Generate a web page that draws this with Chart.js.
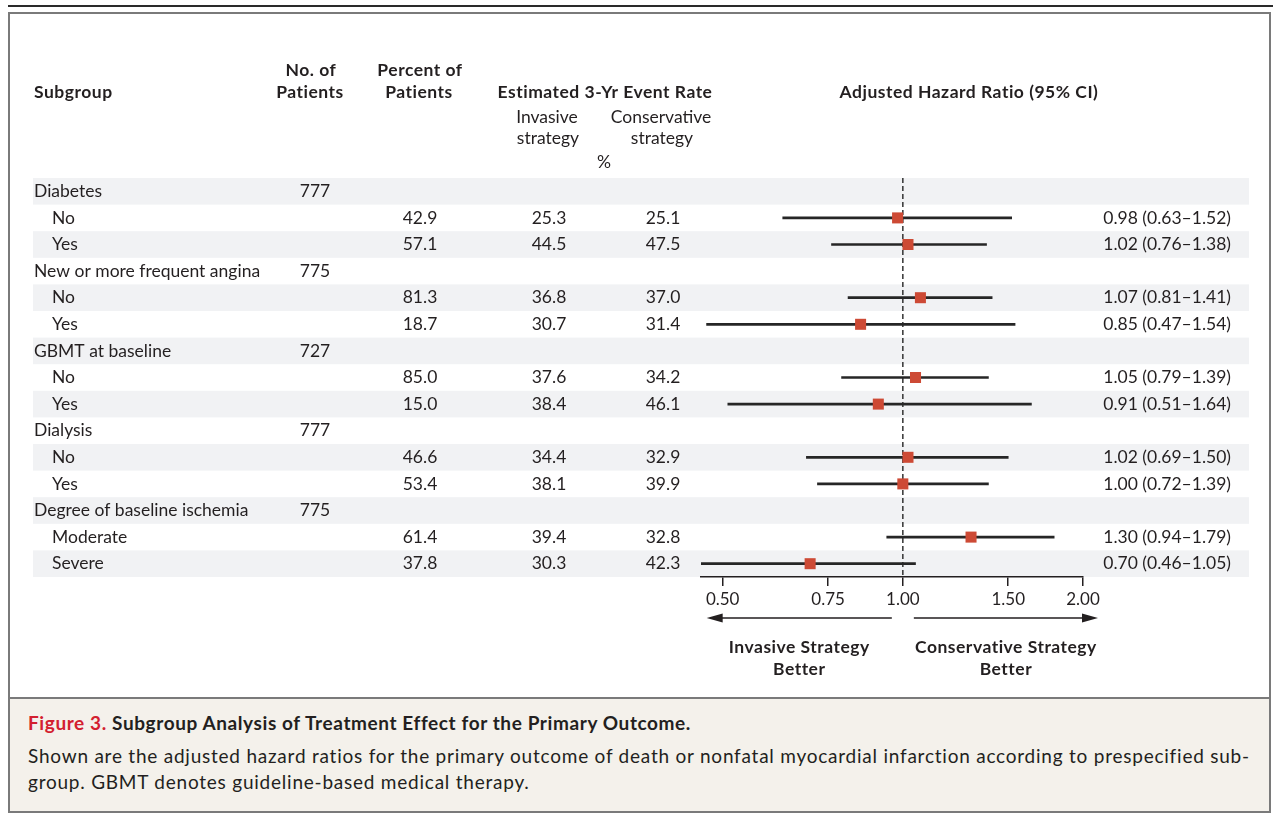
<!DOCTYPE html>
<html>
<head>
<meta charset="utf-8">
<script src="https://cdn.jsdelivr.net/npm/chart.js@4.4.1/dist/chart.umd.min.js"></script>
<style>
  html, body { margin: 0; padding: 0; background: #fff; }
  body { width: 1273px; height: 814px; position: relative; overflow: hidden; font-family: Lato, "Open Sans", sans-serif; color: #231f20; }
  #topline { position: absolute; left: 8px; top: 5px; width: 1265px; height: 2px; background: #2a2a2a; }
  #frame { position: absolute; left: 8px; top: 12px; width: 1259px; height: 685px; border: 2px solid #7a7a7a; border-bottom: none; background: #fff; }
  #caption { position: absolute; left: 8px; top: 697px; width: 1259px; height: 112px; border: 2px solid #7a7a7a; background: #f4f1eb; }
  .cap { position: absolute; left: 18px; white-space: nowrap; font-size: 19px; letter-spacing: 0.77px; line-height: 26px; color: #231f20; }
  .cap-title { font-weight: bold; letter-spacing: 0.6px; }
  .fig { color: #d3202f; }
  #chartWrap { position: absolute; left: 0; top: 0; width: 1273px; height: 697px; z-index: 2; }
</style>
</head>
<body>
<div id="topline"></div>
<div id="frame"></div>
<div id="caption">
  <div class="cap cap-title" style="top:11px"><span class="fig">Figure 3.</span> Subgroup Analysis of Treatment Effect for the Primary Outcome.</div>
  <div class="cap" style="top:44px">Shown are the adjusted hazard ratios for the primary outcome of death or nonfatal myocardial infarction according to prespecified sub-</div>
  <div class="cap" style="top:70px">group. GBMT denotes guideline-based medical therapy.</div>
</div>
<div id="chartWrap"><canvas id="c" width="1273" height="697"></canvas></div>

<script>
// ---------- data ----------
const subgroups = ['Diabetes', 'No', 'Yes',
  'New or more frequent angina', 'No', 'Yes',
  'GBMT at baseline', 'No', 'Yes',
  'Dialysis', 'No', 'Yes',
  'Degree of baseline ischemia', 'Moderate', 'Severe'];
const isHeader = [1,0,0, 1,0,0, 1,0,0, 1,0,0, 1,0,0];
const patients = ['777','','', '775','','', '727','','', '777','','', '775','',''];
const percentPatients = [null,42.9,57.1, null,81.3,18.7, null,85.0,15.0, null,46.6,53.4, null,61.4,37.8];
const invasiveRate = [null,25.3,44.5, null,36.8,30.7, null,37.6,38.4, null,34.4,38.1, null,39.4,30.3];
const conservativeRate = [null,25.1,47.5, null,37.0,31.4, null,34.2,46.1, null,32.9,39.9, null,32.8,42.3];
const hazardRatio = [null,0.98,1.02, null,1.07,0.85, null,1.05,0.91, null,1.02,1.00, null,1.30,0.70];
const ciLower = [null,0.63,0.76, null,0.81,0.47, null,0.79,0.51, null,0.69,0.72, null,0.94,0.46];
const ciUpper = [null,1.52,1.38, null,1.41,1.54, null,1.39,1.64, null,1.50,1.39, null,1.79,1.05];
const tickValues = [0.5, 0.75, 1, 1.5, 2];
const tickLabels = ['0.50', '0.75', '1.00', '1.50', '2.00'];
const axisMin = 0.46, axisMax = 2.0;

// ---------- derived datasets ----------
const pointData = [], ciData = [];
hazardRatio.forEach((v, i) => {
  if (v != null) {
    pointData.push({ x: v, y: i });
    ciData.push({ x: [ciLower[i], ciUpper[i]], y: i });
  }
});

const TXT = '#231f20';
const FONT = 'Lato, "Open Sans", sans-serif';
const SIZE = 17.5;
const col = { label: 34, indent: 52, n: 315, pct: 420, inv: 549, cons: 663, hrRight: 1231, bandL: 33, bandR: 1249 };

const forestPlugin = {
  id: 'forestTable',
  beforeDraw(chart) {
    const ctx = chart.ctx, ys = chart.scales.y;
    ctx.save();
    ctx.fillStyle = '#f1f2f4';
    for (let i = 0; i < subgroups.length; i += 2) {
      const t = ys.getPixelForValue(i - 0.5), b = ys.getPixelForValue(i + 0.5);
      ctx.fillRect(col.bandL, Math.min(t, b), col.bandR - col.bandL, Math.abs(b - t));
    }
    ctx.restore();
  },
  beforeDatasetsDraw(chart) {
    const ctx = chart.ctx, xs = chart.scales.x, a = chart.chartArea;
    const x1 = xs.getPixelForValue(1);
    ctx.save();
    ctx.strokeStyle = '#333';
    ctx.lineWidth = 1.5;
    ctx.setLineDash([5, 3]);
    ctx.beginPath();
    ctx.moveTo(x1, a.top);
    ctx.lineTo(x1, a.bottom);
    ctx.stroke();
    ctx.restore();
  },
  afterDraw(chart) {
    const ctx = chart.ctx, xs = chart.scales.x, ys = chart.scales.y;
    const bold = 'bold ' + SIZE + 'px ' + FONT, reg = SIZE + 'px ' + FONT;
    ctx.save();
    ctx.fillStyle = TXT;
    ctx.textBaseline = 'middle';
    const t = (s, x, y, align, f) => {
      ctx.font = f;
      ctx.letterSpacing = f === bold ? '0.5px' : '0px';
      ctx.textAlign = align;
      ctx.fillText(s, x, y);
    };
    // headers
    t('Subgroup', col.label, 92, 'left', bold);
    t('No. of', 311, 70, 'center', bold);
    t('Patients', 310, 92, 'center', bold);
    t('Percent of', 420, 70, 'center', bold);
    t('Patients', 419, 92, 'center', bold);
    t('Estimated 3-Yr Event Rate', 605, 92, 'center', bold);
    t('Invasive', 547, 117, 'center', reg);
    t('strategy', 548, 138, 'center', reg);
    t('Conservative', 661, 117, 'center', reg);
    t('strategy', 662, 138, 'center', reg);
    t('%', 604, 162, 'center', reg);
    t('Adjusted Hazard Ratio (95% CI)', 969, 92, 'center', bold);
    // rows
    subgroups.forEach((s, i) => {
      const y = ys.getPixelForValue(i);
      t(s, isHeader[i] ? col.label : col.indent, y, 'left', reg);
      if (patients[i]) t(patients[i], col.n, y, 'center', reg);
      if (percentPatients[i] != null) t(percentPatients[i].toFixed(1), col.pct, y, 'center', reg);
      if (invasiveRate[i] != null) t(invasiveRate[i].toFixed(1), col.inv, y, 'center', reg);
      if (conservativeRate[i] != null) t(conservativeRate[i].toFixed(1), col.cons, y, 'center', reg);
      if (hazardRatio[i] != null) {
        t(hazardRatio[i].toFixed(2) + ' (' + ciLower[i].toFixed(2) + '\u2013' + ciUpper[i].toFixed(2) + ')', col.hrRight, y, 'right', reg);
      }
    });
    // direction arrows
    const x1 = xs.getPixelForValue(1);
    const lTip = xs.getPixelForValue(tickValues[0]) - 16, lEnd = x1 - 11;
    const rStart = x1 + 11, rTip = xs.getPixelForValue(tickValues[tickValues.length - 1]) + 15;
    const ay = 618, head = 16, hh = 4.5;
    ctx.strokeStyle = '#231f20';
    ctx.lineWidth = 1.6;
    ctx.beginPath();
    ctx.moveTo(lTip + head - 2, ay); ctx.lineTo(lEnd, ay);
    ctx.moveTo(rStart, ay); ctx.lineTo(rTip - head + 2, ay);
    ctx.stroke();
    ctx.beginPath();
    ctx.moveTo(lTip, ay); ctx.lineTo(lTip + head, ay - hh); ctx.lineTo(lTip + head, ay + hh); ctx.closePath();
    ctx.moveTo(rTip, ay); ctx.lineTo(rTip - head, ay - hh); ctx.lineTo(rTip - head, ay + hh); ctx.closePath();
    ctx.fill();
    const lc = (lTip + lEnd) / 2, rc = (rStart + rTip) / 2;
    t('Invasive Strategy', lc, 647, 'center', bold);
    t('Better', lc, 669, 'center', bold);
    t('Conservative Strategy', rc, 647, 'center', bold);
    t('Better', rc, 669, 'center', bold);
    ctx.restore();
  }
};

new Chart(document.getElementById('c'), {
  type: 'bar',
  data: {
    datasets: [
      {
        type: 'scatter',
        label: 'Hazard ratio',
        data: pointData,
        pointStyle: 'rect',
        pointRadius: 7.8,
        backgroundColor: '#cd4a35',
        borderColor: '#cd4a35',
        borderWidth: 0,
        showLine: false,
        order: 0,
        xAxisID: 'x', yAxisID: 'y'
      },
      {
        type: 'bar',
        label: '95% CI',
        indexAxis: 'y',
        data: ciData,
        barThickness: 2,
        backgroundColor: '#262626',
        borderWidth: 0,
        order: 1,
        xAxisID: 'x', yAxisID: 'y'
      }
    ]
  },
  plugins: [forestPlugin],
  options: {
    responsive: false,
    animation: false,
    events: [],
    indexAxis: 'y',
    layout: { padding: { left: 701, right: 190, top: 178, bottom: 80 } },
    plugins: { legend: { display: false }, tooltip: { enabled: false } },
    scales: {
      x: {
        type: 'logarithmic',
        position: 'bottom',
        offset: false,
        min: axisMin,
        max: axisMax,
        afterBuildTicks: (s) => { s.ticks = tickValues.map(v => ({ value: v })); s.min = axisMin; s.max = axisMax; },
        afterFit: (s) => { s.height = 40; },
        ticks: {
          callback: (v, i) => tickLabels[i],
          font: { family: FONT, size: 17 },
          color: TXT,
          padding: 3,
          maxRotation: 0,
          autoSkip: false
        },
        grid: { display: true, offset: false, drawOnChartArea: false, drawTicks: true, tickLength: 9, color: '#231f20', lineWidth: 1.5 },
        border: { display: true, color: '#231f20', width: 1.5 }
      },
      y: {
        type: 'linear',
        offset: false,
        min: -0.5,
        max: 14.5,
        reverse: true,
        display: false,
        grid: { display: false, offset: false }
      }
    }
  }
});
</script>
</body>
</html>
